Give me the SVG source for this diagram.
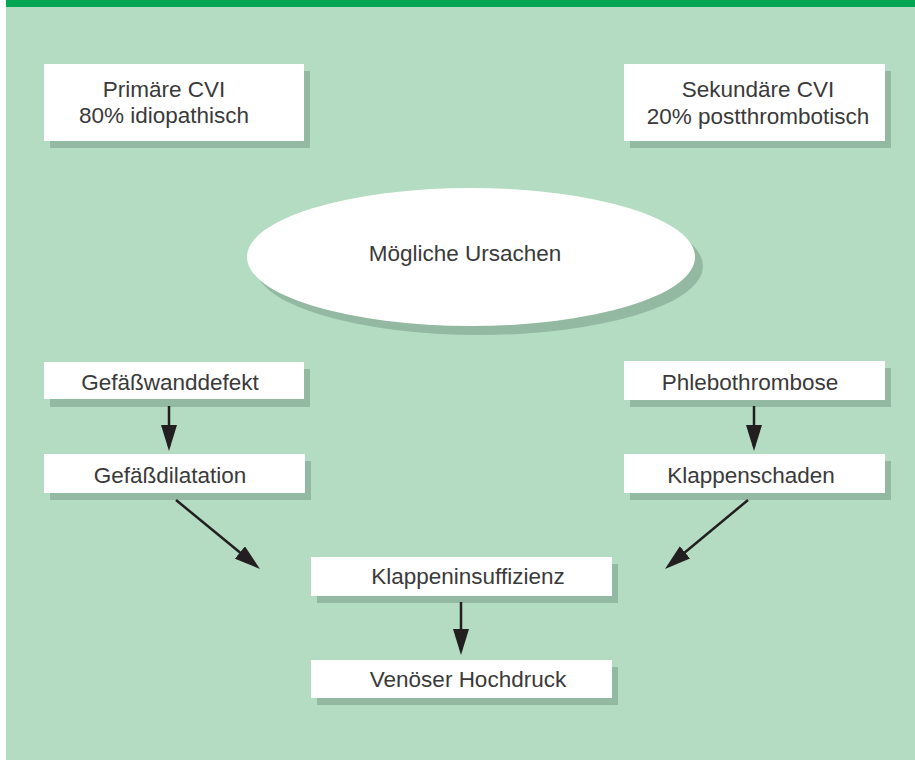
<svg xmlns="http://www.w3.org/2000/svg" width="915" height="760" viewBox="0 0 915 760">
  <style>
    .bg { fill: #b3dcc2; }
    .bar { fill: #00a651; }
    .box { fill: #ffffff; }
    .shadow { fill: #94b9a2; }
    .lbl { font-family: "Liberation Sans", Arial, Helvetica, sans-serif; font-size: 22.5px; fill: #3a3a3a; text-anchor: middle; }
    .conn { stroke: #231f20; stroke-width: 2.5; fill: none; marker-end: url(#arrow); }
  </style>
  <defs>
    <marker id="arrow" markerUnits="userSpaceOnUse" markerWidth="26" markerHeight="16" refX="21" refY="8" orient="auto">
      <path d="M0,0 L26,8 L0,16 Z" fill="#231f20"/>
    </marker>
  </defs>

  <rect x="0" y="0" width="915" height="760" fill="#ffffff"/>
  <rect class="bg" x="6" y="0" width="909" height="760"/>
  <rect class="bar" x="6" y="0" width="909" height="7"/>

  <g id="primaer">
    <rect class="shadow" x="50" y="71" width="260" height="77"/>
    <rect class="box" x="44" y="64" width="260" height="77"/>
    <text class="lbl" x="164" y="97">Primäre CVI</text>
    <text class="lbl" x="164" y="123">80% idiopathisch</text>
  </g>

  <g id="sekundaer">
    <rect class="shadow" x="630" y="71" width="261" height="77"/>
    <rect class="box" x="624" y="64" width="261" height="77"/>
    <text class="lbl" x="758" y="97">Sekundäre CVI</text>
    <text class="lbl" x="758" y="124">20% postthrombotisch</text>
  </g>

  <g id="ursachen">
    <ellipse class="shadow" cx="479" cy="266" rx="224" ry="69"/>
    <ellipse class="box" cx="471" cy="257" rx="224" ry="69"/>
    <text class="lbl" x="465" y="261">Mögliche Ursachen</text>
  </g>

  <g id="gefaesswanddefekt">
    <rect class="shadow" x="50" y="369" width="260" height="38"/>
    <rect class="box" x="44" y="362" width="260" height="37"/>
    <text class="lbl" x="170" y="390">Gefäßwanddefekt</text>
  </g>

  <g id="gefaessdilatation">
    <rect class="shadow" x="50" y="461" width="261" height="39"/>
    <rect class="box" x="44" y="454" width="261" height="39"/>
    <text class="lbl" x="170" y="483">Gefäßdilatation</text>
  </g>

  <g id="phlebothrombose">
    <rect class="shadow" x="630" y="368" width="261" height="39"/>
    <rect class="box" x="624" y="361" width="261" height="39"/>
    <text class="lbl" x="750" y="390">Phlebothrombose</text>
  </g>

  <g id="klappenschaden">
    <rect class="shadow" x="630" y="461" width="261" height="39"/>
    <rect class="box" x="624" y="454" width="261" height="39"/>
    <text class="lbl" x="751" y="483">Klappenschaden</text>
  </g>

  <g id="klappeninsuffizienz">
    <rect class="shadow" x="317" y="564" width="301" height="39"/>
    <rect class="box" x="311" y="557" width="301" height="39"/>
    <text class="lbl" x="468" y="584">Klappeninsuffizienz</text>
  </g>

  <g id="hochdruck">
    <rect class="shadow" x="317" y="667" width="301" height="38"/>
    <rect class="box" x="311" y="660" width="301" height="38"/>
    <text class="lbl" x="468" y="687">Venöser Hochdruck</text>
  </g>

  <g id="connectors">
    <line class="conn" x1="169" y1="406" x2="169" y2="446"/>
    <line class="conn" x1="754" y1="406" x2="754" y2="446"/>
    <line class="conn" x1="176" y1="500" x2="256.1" y2="565.8"/>
    <line class="conn" x1="748" y1="500" x2="668.8" y2="565.8"/>
    <line class="conn" x1="461" y1="602" x2="461" y2="650"/>
  </g>
</svg>
